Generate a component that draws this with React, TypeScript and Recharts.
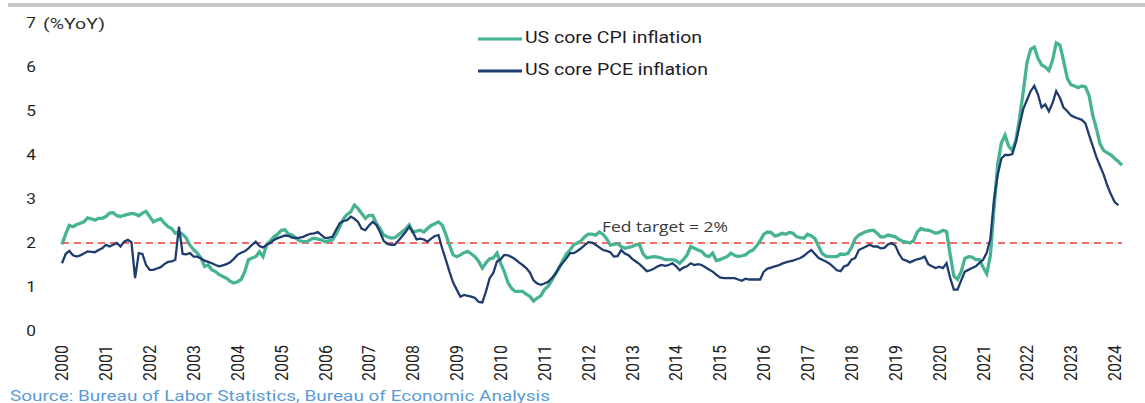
import React from 'react';
import { LineChart, Line, XAxis, YAxis, ReferenceLine, Legend } from 'recharts';

// Monthly categories, Jan 2000 onwards
const years = [
  2000, 2001, 2002, 2003, 2004, 2005, 2006, 2007, 2008, 2009, 2010, 2011, 2012,
  2013, 2014, 2015, 2016, 2017, 2018, 2019, 2020, 2021, 2022, 2023, 2024,
];
const months = ['01', '02', '03', '04', '05', '06', '07', '08', '09', '10', '11', '12'];

// US core CPI, % YoY (Jan 2000 - Mar 2024)
const coreCpi = [
  1.97, 2.2, 2.4, 2.37, 2.42, 2.45, 2.48, 2.57, 2.55, 2.52, 2.56, 2.56, // 2000
  2.6, 2.68, 2.69, 2.62, 2.6, 2.63, 2.65, 2.67, 2.66, 2.62, 2.68, 2.72, // 2001
  2.6, 2.48, 2.52, 2.55, 2.45, 2.37, 2.33, 2.22, 2.25, 2.2, 2.11, 1.95, // 2002
  1.85, 1.77, 1.66, 1.47, 1.5, 1.39, 1.35, 1.28, 1.24, 1.2, 1.13, 1.09, // 2003
  1.12, 1.17, 1.35, 1.62, 1.66, 1.69, 1.8, 1.69, 1.96, 2.05, 2.14, 2.2, // 2004
  2.29, 2.3, 2.2, 2.18, 2.11, 2.05, 2.03, 2.03, 2.08, 2.11, 2.09, 2.07, // 2005
  2.03, 2.05, 2.07, 2.2, 2.37, 2.55, 2.65, 2.71, 2.86, 2.78, 2.67, 2.56, // 2006
  2.63, 2.63, 2.45, 2.33, 2.18, 2.14, 2.11, 2.12, 2.18, 2.25, 2.32, 2.41, // 2007
  2.25, 2.27, 2.29, 2.25, 2.33, 2.4, 2.44, 2.48, 2.41, 2.2, 1.95, 1.73, // 2008
  1.69, 1.73, 1.78, 1.81, 1.75, 1.69, 1.58, 1.43, 1.55, 1.64, 1.66, 1.77, // 2009
  1.54, 1.35, 1.1, 0.97, 0.9, 0.9, 0.9, 0.84, 0.79, 0.68, 0.75, 0.8, // 2010
  0.94, 1.02, 1.15, 1.3, 1.43, 1.6, 1.75, 1.84, 1.96, 2.0, 2.05, 2.14, // 2011
  2.2, 2.2, 2.18, 2.25, 2.2, 2.1, 1.95, 1.97, 1.99, 1.92, 1.88, 1.9, // 2012
  1.92, 1.96, 1.96, 1.75, 1.66, 1.68, 1.69, 1.68, 1.66, 1.62, 1.62, 1.62, // 2013
  1.6, 1.54, 1.62, 1.73, 1.92, 1.88, 1.84, 1.81, 1.72, 1.69, 1.77, 1.6, // 2014
  1.62, 1.66, 1.69, 1.77, 1.72, 1.69, 1.71, 1.73, 1.8, 1.84, 1.93, 2.05, // 2015
  2.2, 2.25, 2.24, 2.16, 2.18, 2.22, 2.2, 2.24, 2.22, 2.14, 2.12, 2.11, // 2016
  2.2, 2.16, 2.1, 1.92, 1.76, 1.7, 1.69, 1.69, 1.69, 1.75, 1.74, 1.76, // 2017
  1.9, 2.1, 2.18, 2.22, 2.26, 2.28, 2.29, 2.22, 2.14, 2.14, 2.18, 2.16, // 2018
  2.14, 2.08, 2.04, 2.02, 2.0, 2.06, 2.25, 2.33, 2.3, 2.29, 2.26, 2.22, // 2019
  2.24, 2.29, 2.26, 1.73, 1.25, 1.17, 1.35, 1.65, 1.69, 1.68, 1.62, 1.62, // 2020
  1.45, 1.3, 1.72, 2.8, 3.8, 4.27, 4.45, 4.2, 4.1, 4.35, 4.85, 5.45, // 2021
  6.1, 6.4, 6.45, 6.2, 6.05, 6.0, 5.92, 6.15, 6.55, 6.5, 6.15, 5.75, // 2022
  5.6, 5.57, 5.53, 5.57, 5.55, 5.35, 4.9, 4.6, 4.25, 4.1, 4.05, 4.0, // 2023
  3.92, 3.85, 3.77, // 2024
];

// US core PCE, % YoY (Jan 2000 - Feb 2024)
const corePce = [
  1.54, 1.75, 1.82, 1.72, 1.69, 1.72, 1.76, 1.81, 1.8, 1.79, 1.84, 1.88, // 2000
  1.96, 1.92, 1.96, 2.0, 1.92, 2.03, 2.07, 2.02, 1.2, 1.77, 1.75, 1.5, // 2001
  1.39, 1.39, 1.42, 1.45, 1.52, 1.57, 1.58, 1.62, 2.37, 1.75, 1.74, 1.77, // 2002
  1.69, 1.69, 1.65, 1.6, 1.57, 1.54, 1.5, 1.47, 1.49, 1.52, 1.56, 1.64, // 2003
  1.73, 1.78, 1.81, 1.88, 1.96, 2.03, 1.93, 1.9, 1.96, 2.0, 2.07, 2.11, // 2004
  2.14, 2.17, 2.16, 2.12, 2.11, 2.12, 2.14, 2.18, 2.21, 2.22, 2.25, 2.18, // 2005
  2.11, 2.12, 2.14, 2.3, 2.45, 2.5, 2.52, 2.6, 2.55, 2.48, 2.32, 2.29, // 2006
  2.4, 2.48, 2.41, 2.25, 2.05, 1.98, 1.96, 1.96, 2.05, 2.15, 2.25, 2.37, // 2007
  2.25, 2.08, 2.1, 2.08, 2.03, 2.1, 2.16, 2.18, 1.88, 1.62, 1.35, 1.1, // 2008
  0.94, 0.78, 0.82, 0.8, 0.78, 0.75, 0.66, 0.65, 0.9, 1.2, 1.32, 1.58, // 2009
  1.63, 1.73, 1.72, 1.68, 1.63, 1.56, 1.5, 1.43, 1.33, 1.15, 1.08, 1.05, // 2010
  1.08, 1.12, 1.2, 1.3, 1.45, 1.55, 1.65, 1.77, 1.77, 1.82, 1.88, 1.95, // 2011
  2.02, 2.01, 1.96, 1.9, 1.84, 1.82, 1.79, 1.69, 1.7, 1.84, 1.76, 1.72, // 2012
  1.64, 1.58, 1.52, 1.44, 1.36, 1.38, 1.42, 1.47, 1.5, 1.48, 1.5, 1.54, // 2013
  1.47, 1.38, 1.44, 1.47, 1.54, 1.5, 1.52, 1.5, 1.45, 1.4, 1.35, 1.28, // 2014
  1.22, 1.2, 1.2, 1.2, 1.2, 1.17, 1.14, 1.19, 1.17, 1.17, 1.17, 1.17, // 2015
  1.35, 1.42, 1.44, 1.47, 1.49, 1.53, 1.56, 1.58, 1.6, 1.63, 1.66, 1.71, // 2016
  1.78, 1.84, 1.75, 1.66, 1.62, 1.58, 1.53, 1.46, 1.38, 1.36, 1.47, 1.5, // 2017
  1.62, 1.66, 1.84, 1.88, 1.92, 1.96, 1.92, 1.92, 1.88, 1.89, 1.97, 2.0, // 2018
  1.94, 1.75, 1.63, 1.6, 1.56, 1.6, 1.63, 1.65, 1.69, 1.52, 1.47, 1.43, // 2019
  1.46, 1.43, 1.54, 1.2, 0.94, 0.94, 1.15, 1.35, 1.39, 1.43, 1.47, 1.55, // 2020
  1.62, 1.78, 2.1, 3.0, 3.55, 3.92, 4.0, 4.0, 4.02, 4.3, 4.68, 5.05, // 2021
  5.25, 5.45, 5.57, 5.38, 5.08, 5.15, 4.99, 5.18, 5.45, 5.3, 5.08, 5.0, // 2022
  4.9, 4.86, 4.83, 4.8, 4.72, 4.45, 4.2, 3.95, 3.75, 3.55, 3.3, 3.1, // 2023
  2.93, 2.86, // 2024
];

const yTicks = [0, 1, 2, 3, 4, 5, 6, 7];
const yearTicks = years.map((y) => `${y}-01`);

const seriesInfo = [
  { key: 'cpi', label: 'US core CPI inflation', color: '#47b392', width: 3.3, textLen: 177 },
  { key: 'pce', label: 'US core PCE inflation', color: '#1e3c6e', width: 2.3, textLen: 183 },
];

const chartData = coreCpi.map((v, i) => ({
  month: `${years[Math.floor(i / 12)]}-${months[i % 12]}`,
  cpi: v,
  pce: i < corePce.length ? corePce[i] : null,
}));

const FONT = "Roboto, 'Liberation Sans', Arial, sans-serif";

// source picture is a little stretched sideways, so the glyphs are widened
const YearTick = (props: any) => {
  const { x, y, payload } = props;
  return (
    <text
      transform={`translate(${x},${y + 6}) rotate(-90) scale(1,1.15)`}
      textAnchor="end"
      dominantBaseline="central"
      fontSize={16}
      fontFamily={FONT}
      fill="#1f1f1f"
    >
      {String(payload.value).slice(0, 4)}
    </text>
  );
};

const ValueTick = (props: any) => {
  const { y, payload } = props;
  return (
    <text
      transform={`translate(31,${y}) scale(1.15,1)`}
      textAnchor="middle"
      dominantBaseline="central"
      fontSize={15}
      fontFamily={FONT}
      fill="#1f1f1f"
    >
      {payload.value}
    </text>
  );
};

const renderLegend = () => (
  <svg width={270} height={60}>
    {seriesInfo.map((s, i) => (
      <g key={s.key}>
        <line x1={2} x2={46} y1={13 + i * 32} y2={13 + i * 32} stroke={s.color} strokeWidth={3} />
        <text
          x={49}
          y={11 + i * 32}
          dominantBaseline="central"
          fontSize={16}
          fontFamily={FONT}
          fill="#1c1c2a"
          textLength={s.textLen}
          lengthAdjust="spacingAndGlyphs"
        >
          {s.label}
        </text>
      </g>
    ))}
  </svg>
);

const FedLabel = (props: any) => {
  const { viewBox } = props;
  return (
    <text
      x={602}
      y={viewBox.y - 17}
      dominantBaseline="central"
      fontSize={15}
      fontFamily="'Open Sans', 'Liberation Sans', sans-serif"
      fill="#3a3a3a"
      textLength={126}
      lengthAdjust="spacingAndGlyphs"
    >
      Fed target = 2%
    </text>
  );
};

export default function App() {
  return (
    <div style={{ position: 'absolute', left: 0, top: 0, width: 1145, height: 403, background: '#ffffff' }}>
      <LineChart width={1145} height={403} data={chartData} margin={{ top: 23, right: 23, bottom: 0, left: 0 }}>
        <XAxis
          dataKey="month"
          ticks={yearTicks}
          interval={0}
          height={72}
          axisLine={false}
          tickLine={false}
          tick={(p: any) => <YearTick {...p} />}
        />
        <YAxis
          domain={[0, 7]}
          ticks={yTicks}
          interval={0}
          width={62}
          axisLine={false}
          tickLine={false}
          tick={(p: any) => <ValueTick {...p} />}
        />
        <ReferenceLine
          y={2}
          stroke="#f26a6a"
          strokeWidth={2.2}
          strokeDasharray="7 5"
          label={(p: any) => <FedLabel {...p} />}
        />
        <Legend
          layout="vertical"
          align="center"
          verticalAlign="middle"
          content={renderLegend}
          wrapperStyle={{ position: 'absolute', left: 476, top: 26, width: 270, height: 60 }}
        />
        {seriesInfo.map((s) => (
          <Line
            key={s.key}
            type="linear"
            dataKey={s.key}
            stroke={s.color}
            strokeWidth={s.width}
            dot={false}
            isAnimationActive={false}
          />
        ))}
      </LineChart>
      <svg
        width={1145}
        height={403}
        style={{ position: 'absolute', left: 0, top: 0, pointerEvents: 'none' }}
      >
        <rect x={8} y={3} width={1137} height={4} fill="#c8c8c8" />
        <text
          x={43}
          y={24}
          dominantBaseline="central"
          fontSize={15}
          fontFamily={FONT}
          fill="#333333"
          textLength={62}
          lengthAdjust="spacingAndGlyphs"
        >
          (%YoY)
        </text>
        <text
          x={10}
          y={401}
          fontSize={14}
          fontFamily={FONT}
          fill="#5b9bd5"
          textLength={540}
          lengthAdjust="spacingAndGlyphs"
        >
          Source: Bureau of Labor Statistics,  Bureau of Economic Analysis
        </text>
      </svg>
    </div>
  );
}
